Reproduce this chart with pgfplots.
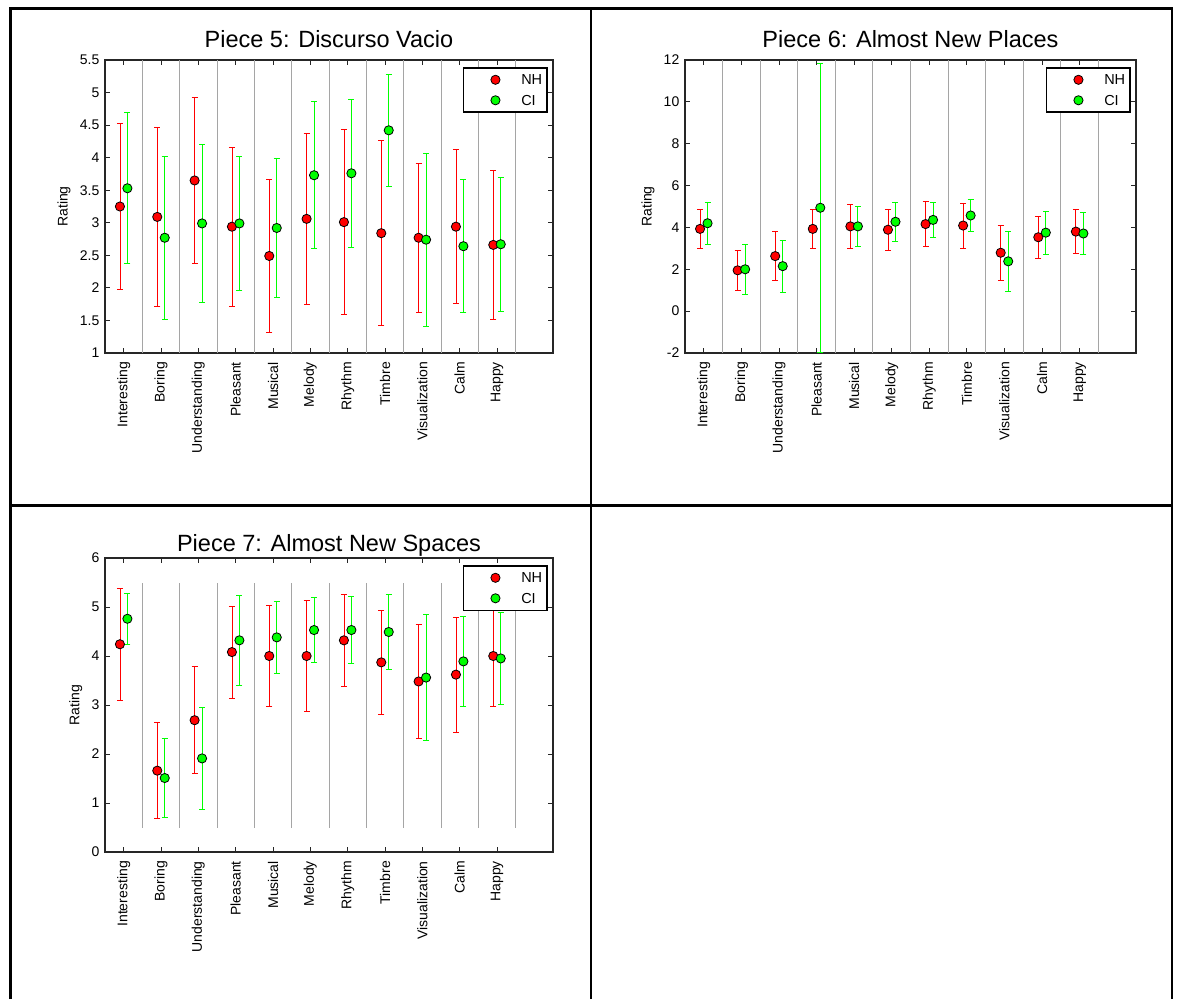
\documentclass[border=0pt]{standalone}
\usepackage{fontspec}
\setmainfont{Liberation Sans}
\usepackage{pgfplots}
\usepackage{pgfplotstable}
\pgfplotsset{compat=1.18}

\definecolor{nhred}{RGB}{255,0,0}
\definecolor{cigreen}{RGB}{0,255,0}
\definecolor{sepgray}{RGB}{165,165,165}

% mean rating and half-width of the error bar, per category
\pgfplotstableread{
x  nh   nhe  ci   cie
1  3.25 1.27 3.53 1.16
2  3.09 1.38 2.77 1.25
3  3.65 1.28 2.99 1.21
4  2.94 1.22 2.99 1.03
5  2.49 1.18 2.92 1.07
6  3.06 1.32 3.73 1.13
7  3.01 1.42 3.76 1.14
8  2.84 1.42 4.42 0.86
9  2.77 1.14 2.74 1.33
10 2.94 1.18 2.64 1.02
11 2.66 1.14 2.67 1.03
}\pieceV
\pgfplotstableread{
x  nh   nhe  ci   cie
1  3.93 0.91 4.20 0.99
2  1.95 0.97 2.00 1.18
3  2.63 1.16 2.15 1.25
4  3.93 0.93 4.94 6.92
5  4.05 1.03 4.05 0.94
6  3.89 0.99 4.27 0.92
7  4.16 1.08 4.36 0.83
8  4.09 1.07 4.57 0.77
9  2.79 1.32 2.38 1.43
10 3.53 1.01 3.75 1.02
11 3.80 1.04 3.71 1.00
}\pieceVI
\pgfplotstableread{
x  nh   nhe  ci   cie
1  4.24 1.14 4.76 0.52
2  1.66 0.98 1.51 0.80
3  2.69 1.09 1.91 1.04
4  4.08 0.94 4.32 0.92
5  4.00 1.03 4.38 0.74
6  4.00 1.13 4.53 0.66
7  4.32 0.94 4.53 0.69
8  3.87 1.06 4.49 0.77
9  3.48 1.16 3.56 1.29
10 3.62 1.17 3.89 0.92
11 4.00 1.02 3.95 0.94
}\pieceVII

\pgfplotsset{
  rating/.style={
    scale only axis,
    xmin=0.5, xmax=12.5,
    xtick={1,...,11},
    xticklabels={Interesting,Boring,Understanding,Pleasant,Musical,Melody,Rhythm,Timbre,Visualization,Calm,Happy},
    tick align=inside, tick pos=both,
    major tick length=5pt,
    major tick style={black!85, line width=0.8pt},
    axis line style={black!85, line width=1.2pt},
    tick label style={font=\fontsize{14}{14}\selectfont},
    xticklabel style={rotate=90, anchor=east, inner sep=0pt},
    xticklabel shift=9pt,
    yticklabel style={inner sep=0pt},
    yticklabel shift=5.5pt,
    ylabel={Rating},
    ylabel style={font=\fontsize{14}{14}\selectfont, inner sep=0pt},
    ylabel shift=9pt,
    title style={at={(0.5,1)}, anchor=base, yshift=6pt, font=\fontsize{23.5}{24}\selectfont},
    legend style={at={(1,1)}, anchor=north east, xshift=-5pt, yshift=-7pt,
      draw=black, line width=1.6pt, fill=white, font=\fontsize{14.5}{14.5}\selectfont,
      inner xsep=5pt, inner ysep=7pt, row sep=10.5pt,
      nodes={inner sep=0pt, text height=10pt, text depth=0pt}, cells={anchor=west}},
    legend image code/.code={\path (0pt,0pt) (51pt,0pt); \draw[##1] plot coordinates {(26pt,0pt)};},
  },
  nh/.style={only marks, color=nhred, mark=*, mark size=4.6pt,
    mark options={fill=nhred, draw=black, line width=0.8pt},
    error bars/.cd, y dir=both, y explicit,
    error bar style={nhred, line width=0.8pt},
    error mark options={rotate=90, nhred, mark size=3pt, line width=0.8pt}},
  ci/.style={only marks, color=cigreen, mark=*, mark size=4.6pt,
    mark options={fill=cigreen, draw=black, line width=0.8pt},
    error bars/.cd, y dir=both, y explicit,
    error bar style={cigreen, line width=0.8pt},
    error mark options={rotate=90, cigreen, mark size=3pt, line width=0.8pt}},
}

\begin{document}
\begin{tikzpicture}
\useasboundingbox (0pt,0pt) rectangle (1180pt,999pt);
% frame of the 2x2 grid
\draw[line width=2.5pt] (10.5pt,0pt) -- (10.5pt,990.5pt) -- (1172pt,990.5pt) -- (1172pt,0pt);
\draw[line width=2.2pt] (590.7pt,0pt) -- (590.7pt,990.5pt);
\draw[line width=2.2pt] (10.5pt,493.5pt) -- (1172pt,493.5pt);

\begin{axis}[rating, at={(105pt,646pt)}, anchor=south west, width=448pt, height=293pt,
  ymin=1, ymax=5.5, ytick={1,1.5,...,5.5},
  yticklabels={1,1.5,2,2.5,3,3.5,4,4.5,5,5.5},
  title={Piece 5: Discurso Vacio}]
  \pgfplotsinvokeforeach{1.5,2.5,3.5,4.5,5.5,6.5,7.5,8.5,9.5,10.5,11.5}{
    \draw[sepgray, line width=1pt] (axis cs:#1,1) -- (axis cs:#1,5.5);}
  \addplot[nh] table[x expr=\thisrow{x}-0.1, y=nh, y error=nhe] {\pieceV};
  \addplot[ci] table[x expr=\thisrow{x}+0.1, y=ci, y error=cie] {\pieceV};
  \legend{NH, CI}
\end{axis}

\begin{axis}[rating, at={(685pt,646pt)}, anchor=south west, width=451pt, height=293pt,
  ymin=-2, ymax=12, ytick={-2,0,...,12},
  yticklabels={-2,0,2,4,6,8,10,12},
  title={Piece 6: Almost New Places}]
  \pgfplotsinvokeforeach{1.5,2.5,3.5,4.5,5.5,6.5,7.5,8.5,9.5,10.5,11.5}{
    \draw[sepgray, line width=1pt] (axis cs:#1,-2) -- (axis cs:#1,12);}
  \addplot[nh] table[x expr=\thisrow{x}-0.1, y=nh, y error=nhe] {\pieceVI};
  \addplot[ci] table[x expr=\thisrow{x}+0.1, y=ci, y error=cie] {\pieceVI};
  \legend{NH, CI}
\end{axis}

\begin{axis}[rating, at={(105pt,147pt)}, anchor=south west, width=448pt, height=294pt,
  ymin=0, ymax=6, ytick={0,...,6},
  yticklabels={0,1,2,3,4,5,6},
  title={Piece 7: Almost New Spaces},
  title style={yshift=-5pt}]
  \pgfplotsinvokeforeach{1.5,2.5,3.5,4.5,5.5,6.5,7.5,8.5,9.5,10.5,11.5}{
    \draw[sepgray, line width=1pt] (axis cs:#1,0.5) -- (axis cs:#1,5.5);}
  \addplot[nh] table[x expr=\thisrow{x}-0.1, y=nh, y error=nhe] {\pieceVII};
  \addplot[ci] table[x expr=\thisrow{x}+0.1, y=ci, y error=cie] {\pieceVII};
  \legend{NH, CI}
\end{axis}
\end{tikzpicture}
\end{document}
